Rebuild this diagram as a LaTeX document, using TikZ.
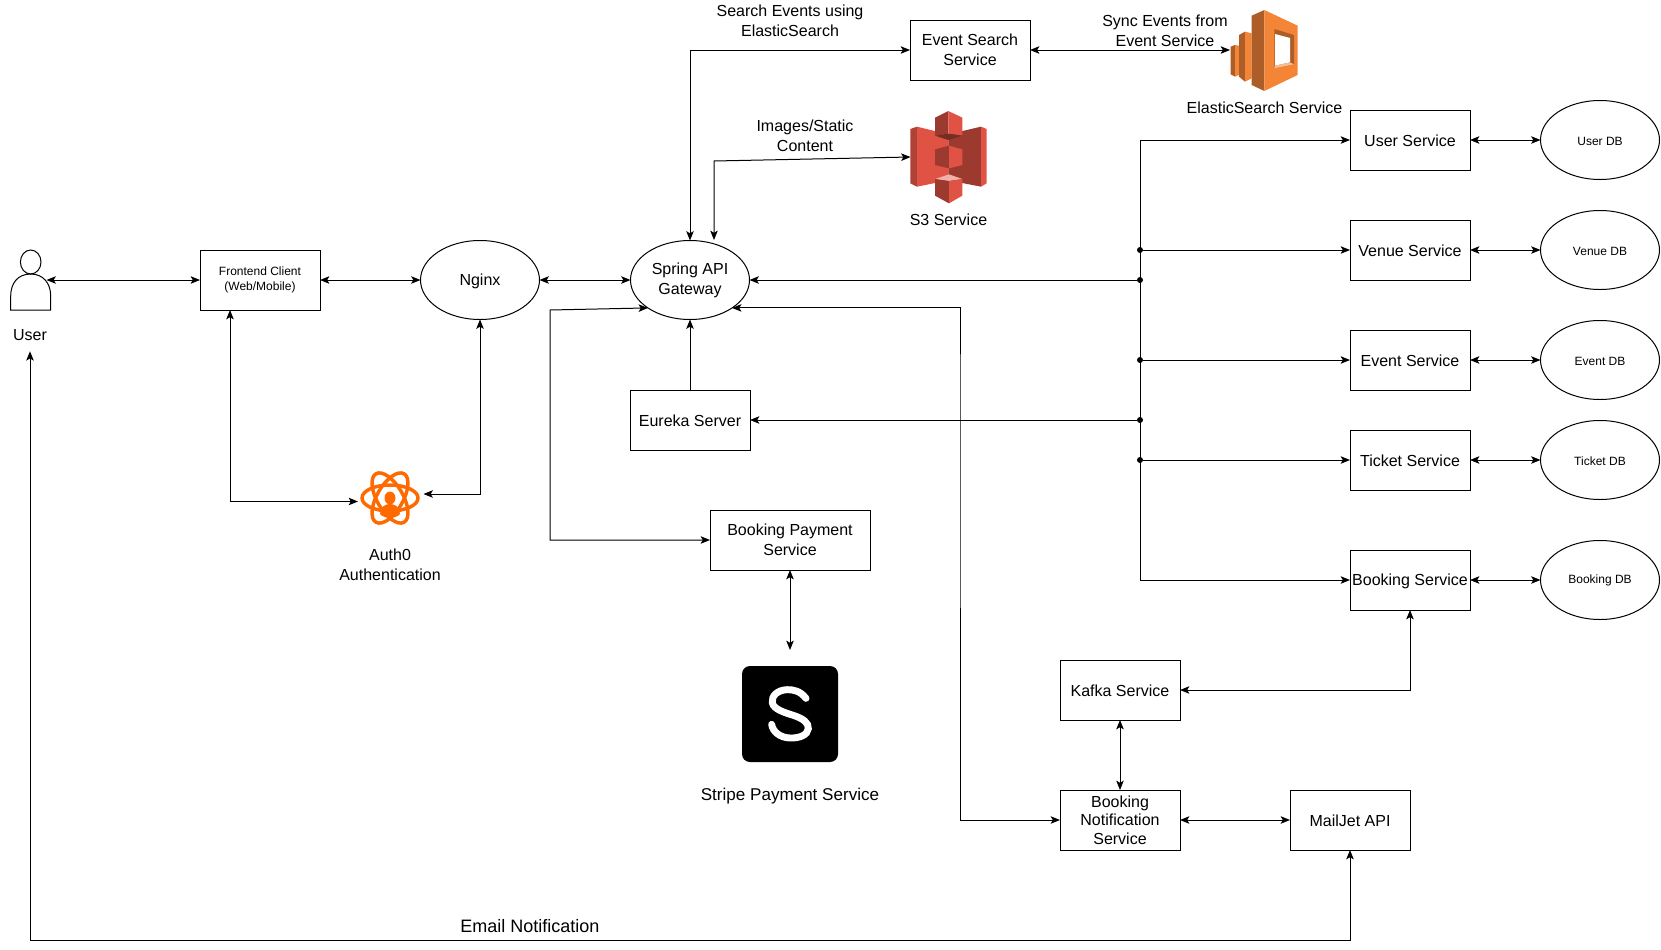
\documentclass[tikz,border=0pt]{standalone}
\usepackage{fontspec}
\setmainfont{Liberation Sans}
\usepackage{xcolor}
\usetikzlibrary{arrows.meta}
\usetikzlibrary{shapes.geometric}

\definecolor{esLight}{HTML}{F58536}
\definecolor{esDark}{HTML}{AD5E28}
\definecolor{sThreeLight}{HTML}{E05243}
\definecolor{sThreeDark}{HTML}{9C3A2F}
\definecolor{authOrange}{HTML}{FF6A00}

\tikzset{
	>={Stealth[length=7pt,width=5.6pt,inset=1.6pt]},
	box/.style={draw,rectangle,line width=0.75pt,outer sep=0pt,minimum width=90pt,minimum height=45pt,inner sep=0pt,align=center,font=\fontsize{12}{15}\selectfont,execute at begin node={\rule{0pt}{0.85em}}},
	oval/.style={draw,ellipse,line width=0.75pt,outer sep=0pt,minimum width=89.25pt,minimum height=59.25pt,inner sep=0pt,align=center,font=\fontsize{12}{15}\selectfont,execute at begin node={\rule{0pt}{0.85em}}},
	dbnode/.style={oval,font=\fontsize{9}{10.8}\selectfont},
	caption/.style={inner sep=0pt,align=center,font=\fontsize{12}{15}\selectfont},
	icon/.style={inner sep=0pt,outer sep=0pt},
	busdot/.style={circle,fill=black,inner sep=0pt,minimum size=4.5pt},
	link/.style={line width=0.75pt},
}

\begin{document}
\begin{tikzpicture}[x=0.75pt,y=-0.75pt]
		
		\useasboundingbox (0,0) rectangle (1661,950);
		
		% Left side
		\node[icon,minimum width=24pt,minimum height=45pt] (user) at (30.5,280) {};
		\node[caption,minimum height=24pt] (userlabel) at (30,335) {User};
		\node[box,font=\fontsize{9}{11}\selectfont] (frontend) at (260,280) {Frontend Client\\(Web/Mobile)};
		\node[oval] (nginx) at (480,280) {Nginx};
		\node[icon,minimum width=49.5pt,minimum height=42pt] (auth) at (390,497) {};
		\node[caption] (authlabel) at (390,565) {Auth0\\Authentication};
		
		% Middle
		\node[oval] (gateway) at (690,280) {Spring API\\Gateway};
		\node[box] (eureka) at (690,420) {Eureka Server};
		\node[box,minimum width=120pt] (payment) at (790,540) {Booking Payment\\Service};
		\node[icon,minimum width=72pt,minimum height=96pt] (stripe) at (790,714) {};
		\node[caption,font=\fontsize{12.8}{15}\selectfont] (stripelabel) at (790,796) {Stripe Payment Service};
		\node[box] (eventsearch) at (970,50) {Event Search\\Service};
		\node[icon,minimum width=57pt,minimum height=70pt] (sthree) at (948.5,157) {};
		\node[caption] (sthreelabel) at (948.5,220) {S3 Service};
		\node[icon,minimum width=51pt,minimum height=60pt] (elastic) at (1264,50) {};
		\node[caption] (elasticlabel) at (1264.5,107.5) {ElasticSearch Service};
		
		% Services and their databases
		\node[box] (userservice) at (1410,140) {User Service};
		\node[box] (venue) at (1410,250) {Venue Service};
		\node[box] (event) at (1410,360) {Event Service};
		\node[box] (ticket) at (1410,460) {Ticket Service};
		\node[box] (booking) at (1410,580) {Booking Service};
		\node[dbnode] (userdb) at (1600,140) {User DB};
		\node[dbnode] (venuedb) at (1600,250) {Venue DB};
		\node[dbnode] (eventdb) at (1600,360) {Event DB};
		\node[dbnode] (ticketdb) at (1600,460) {Ticket DB};
		\node[dbnode] (bookingdb) at (1600,580) {Booking DB};
		
		% Lower right
		\node[box] (kafka) at (1120,690) {Kafka Service};
		\node[box,font=\fontsize{12}{13.8}\selectfont] (notification) at (1120,820) {Booking\\Notification\\Service};
		\node[box] (mailjet) at (1350,820) {MailJet API};
		
		% Connector labels
		\node[caption] (searchlabel) at (790,20.5) {Search Events using\\ElasticSearch};
		\node[caption] (imageslabel) at (805,135.5) {Images/Static\\Content};
		\node[caption] (synclabel) at (1165,30.5) {Sync Events from\\Event Service};
		\node[caption,font=\fontsize{13.5}{15}\selectfont] (emaillabel) at (530,926) {Email Notification};
		
		% Free ends and corners
		\coordinate (frontendport) at (230,310);
		\coordinate (authin) at (358,501.5);
		\coordinate (authout) at (423.5,494);
		\coordinate (sthreeport) at (714,240);
		\coordinate (sthreecorner) at (714,161);
		\coordinate (paycorner) at (550,310);
		\coordinate (notifcorner) at (960,400);
		\coordinate (bustop) at (1140,140);
		\coordinate (mailcorner) at (30,940.5);
		
		% Bus dots
		\node[busdot] (dotvenue) at (1140,250) {};
		\node[busdot] (dotgateway) at (1140,280) {};
		\node[busdot] (dotevent) at (1140,360) {};
		\node[busdot] (doteureka) at (1140,420) {};
		\node[busdot] (dotticket) at (1140,460) {};
		
		% Left side connectors
		\draw[link,<->] (user.east) -- (frontend.west);
		\draw[link,<->] (frontend.east) -- (nginx.west);
		\draw[link,<->] (nginx.east) -- (gateway.west);
		\draw[link,<->] (frontendport) |- (authin);
		\draw[link,<->] (nginx.south) |- (authout);
		\draw[link,<->] (mailjet.south) |- (mailcorner) -- (userlabel.south);
		
		% Gateway connectors
		\draw[link,<->] (gateway.north) |- (eventsearch.west);
		\draw[link,<->] (sthreeport) -- (sthreecorner) -- (sthree.west);
		\draw[link,<->] (gateway.south west) -- (paycorner) |- (payment.west);
		\draw[link,<->] (gateway.south east) -| (notifcorner) |- (notification.west);
		\draw[link,->] (eureka.north) -- (gateway.south);
		\draw[link,<->] (payment.south) -- (stripe.north);
		\draw[link,<->] (eventsearch.east) -- (elastic.west);
		
		% Service bus
		\draw[link,->] (bustop) -- (userservice.west);
		\draw[link,->] (bustop) |- (booking.west);
		\draw[link,->] (dotvenue) -- (venue.west);
		\draw[link,->] (dotevent) -- (event.west);
		\draw[link,->] (dotticket) -- (ticket.west);
		\draw[link,->] (dotgateway) -- (gateway.east);
		\draw[link,->] (doteureka) -- (eureka.east);
		
		% Service to database
		\draw[link,<->] (userservice.east) -- (userdb.west);
		\draw[link,<->] (venue.east) -- (venuedb.west);
		\draw[link,<->] (event.east) -- (eventdb.west);
		\draw[link,<->] (ticket.east) -- (ticketdb.west);
		\draw[link,<->] (booking.east) -- (bookingdb.west);
		
		% Kafka and mail
		\draw[link,<->] (booking.south) |- (kafka.east);
		\draw[link,<->] (kafka.south) -- (notification.north);
		\draw[link,<->] (notification.east) -- (mailjet.west);
		
		% User figure
		\draw[link] (30.7,262) ellipse (10.3 and 12);
		\draw[link] (10.7,310) -- (10.7,296) .. controls (10.7,283) and (18,274) .. (30.7,274) .. controls (43,274) and (50.7,283) .. (50.7,296) -- (50.7,310) -- cycle;
		
		% Auth0 icon
		\draw[authOrange,line width=2.6pt] (390,498) ellipse (28 and 13);
		\draw[authOrange,line width=2.6pt,rotate around={60:(390,498)}] (390,498) ellipse (28 and 13);
		\draw[authOrange,line width=2.6pt,rotate around={-60:(390,498)}] (390,498) ellipse (28 and 13);
		\fill[authOrange] (390,498) ellipse (5.5 and 6.5);
		\fill[authOrange] (380,514) .. controls (380,507) and (385,504) .. (390,504) .. controls (395,504) and (400,507) .. (400,514) .. controls (396,519) and (384,519) .. (380,514) -- cycle;
		
		% ElasticSearch icon
		\begin{scope}[shift={(1225,5)},x=0.25pt,y=-0.25pt]
			\fill[esDark] (17,125) -- (30,120) -- (30,215) -- (17,208) -- cycle;
			\fill[esLight] (30,120) -- (42,122) -- (42,210) -- (30,215) -- cycle;
			\fill[esDark] (42,90) -- (60,80) -- (60,230) -- (42,215) -- cycle;
			\fill[esLight] (60,80) -- (80,85) -- (80,220) -- (60,230) -- cycle;
			\fill[esDark] (80,32) -- (118,15) -- (118,258) -- (80,240) -- cycle;
			\fill[esLight] (118,15) -- (218,62) -- (218,210) -- (118,258) -- cycle;
			\fill[esDark] (148,72) -- (207,90) -- (207,178) -- (148,190) -- cycle;
			\fill[white] (150,87) -- (195,99) -- (195,172) -- (150,182) -- cycle;
			\fill[esLight!55!white] (150,182) -- (195,172) -- (207,178) -- (148,190) -- cycle;
		\end{scope}
		
		% S3 icon
		\begin{scope}[shift={(905,105)},x=0.25pt,y=-0.25pt]
			\fill[sThreeDark!70!sThreeLight] (16,72) -- (36,65) -- (36,245) -- (16,235) -- cycle;
			\fill[sThreeLight] (36,65) -- (130,88) -- (130,226) -- (36,245) -- cycle;
			\fill[sThreeDark] (130,88) -- (228,65) -- (228,245) -- (130,226) -- cycle;
			\fill[sThreeLight] (228,65) -- (245,72) -- (245,235) -- (228,245) -- cycle;
			\fill[sThreeDark] (90,38) -- (130,18) -- (130,86) -- (90,92) -- cycle;
			\fill[sThreeLight] (130,18) -- (172,38) -- (172,92) -- (130,86) -- cycle;
			\fill[sThreeDark!75!black] (90,92) -- (130,86) -- (172,92) -- (130,105) -- cycle;
			\fill[sThreeDark] (90,133) -- (132,122) -- (132,190) -- (90,180) -- cycle;
			\fill[sThreeLight] (132,122) -- (172,133) -- (172,180) -- (132,190) -- cycle;
			\fill[sThreeLight!45!white] (90,222) -- (132,208) -- (172,222) -- (132,228) -- cycle;
			\fill[sThreeDark] (90,222) -- (132,228) -- (132,295) -- (90,272) -- cycle;
			\fill[sThreeLight] (132,228) -- (172,222) -- (172,272) -- (132,295) -- cycle;
		\end{scope}
		
		% Stripe icon
		\fill[black,rounded corners=6pt] (742,666) rectangle (838,762);
		\begin{scope}[shift={(700,640)},x=0.25pt,y=-0.25pt]
			\draw[white,line width=5.2pt,line cap=round] (318,175) .. controls (300,152) and (280,149) .. (262,149) .. controls (232,150) and (214,168) .. (217,188) .. controls (220,208) and (255,218) .. (280,226) .. controls (310,236) and (326,248) .. (325,266) .. controls (323,285) and (298,295) .. (270,294) .. controls (240,293) and (218,275) .. (215,253);
		\end{scope}
		
	\end{tikzpicture}
\end{document}
